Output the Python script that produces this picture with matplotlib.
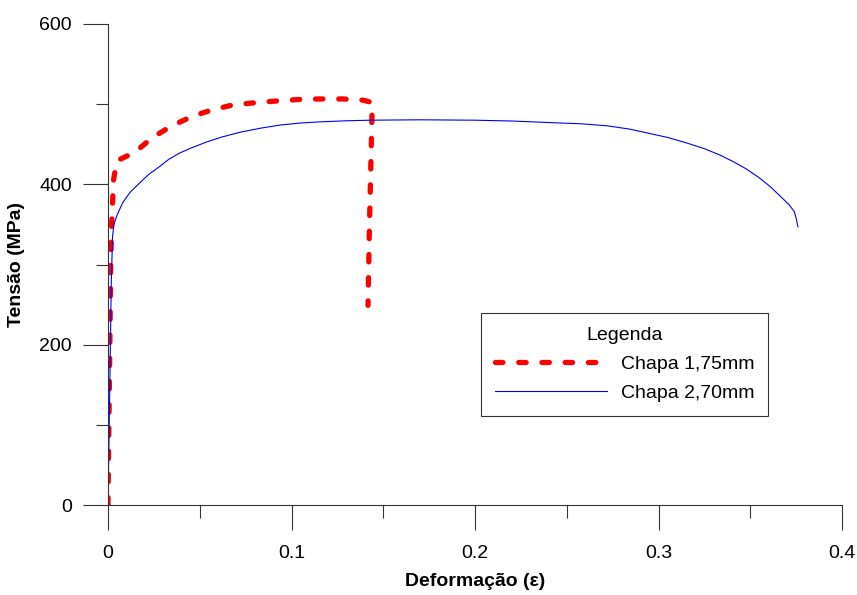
import numpy as np
import matplotlib
matplotlib.use("Agg")
import matplotlib.pyplot as plt
from matplotlib.ticker import MultipleLocator

plt.rcParams['font.family'] = ['Liberation Sans', 'DejaVu Sans']

# Chapa 1,75mm (red dashed)
strain_175 = [0.0, 0.0015, 0.002, 0.003, 0.0045, 0.0054, 0.0147, 0.024, 0.034,
              0.046, 0.057, 0.068, 0.081, 0.092, 0.105, 0.116, 0.128, 0.139,
              0.144, 0.1438, 0.1425, 0.1417]
stress_175 = [0, 300, 350, 405, 425, 430, 440, 458, 472,
              485, 493, 499, 502, 504, 506, 506.5, 506.5, 505,
              502, 480, 350, 249]

# Chapa 2,70mm (blue solid)
strain_270 = [0.0, 0.001, 0.0018, 0.0025, 0.0032, 0.005, 0.008, 0.012, 0.0174,
              0.022, 0.028, 0.033, 0.039, 0.046, 0.054, 0.062, 0.072, 0.083,
              0.094, 0.105, 0.116, 0.13, 0.143, 0.17, 0.2, 0.22, 0.241, 0.258,
              0.272, 0.284, 0.294, 0.305, 0.3155, 0.325, 0.3335, 0.341, 0.348,
              0.355, 0.361, 0.366, 0.371, 0.374, 0.375, 0.376]
stress_270 = [0, 150, 280, 335, 350, 362, 377, 390, 402,
              412, 422, 431, 439, 446, 453, 459, 465, 470,
              474, 476.5, 478, 479.3, 480, 480.5, 480, 479, 477, 475.5,
              473, 469, 464, 458.5, 451.5, 444.5, 436.5, 428, 419,
              408, 397, 386, 375, 366, 358, 347]

fig = plt.figure(figsize=(8.57, 5.95), dpi=100)
ax = fig.add_axes([108/857, 90/595, 734/857, 481/595])

ax.plot(strain_175, stress_175, color='red', linewidth=3.8,
        dashes=(1.4, 3.0), dash_capstyle='round', label='Chapa 1,75mm')
ax.plot(strain_270, stress_270, color='blue', linewidth=0.8,
        label='Chapa 2,70mm')

ax.set_xlim(0, 0.4)
ax.set_ylim(0, 600)
ax.xaxis.set_minor_locator(MultipleLocator(0.05))
ax.yaxis.set_major_locator(MultipleLocator(200))
ax.yaxis.set_minor_locator(MultipleLocator(100))
ax.set_xticks([0, 0.1, 0.2, 0.3, 0.4])
ax.set_xticklabels(['0', '0.1', '0.2', '0.3', '0.4'])

for s in ['top', 'right']:
    ax.spines[s].set_visible(False)
for s in ['left', 'bottom']:
    ax.spines[s].set_color('#333333')
    ax.spines[s].set_linewidth(0.8)

ax.tick_params(which='major', direction='out', length=18, width=0.8,
               labelsize=14, color='#333333')
ax.tick_params(which='minor', direction='out', length=9, width=0.8,
               color='#333333')
ax.tick_params(axis='x', which='major', pad=11)
ax.tick_params(axis='y', which='major', pad=8)

ax.set_xlabel('Deformação (ε)', fontsize=14, fontweight='bold', labelpad=8)
ax.set_ylabel('Tensão (MPa)', fontsize=14, fontweight='bold', labelpad=10)

leg = fig.legend(loc='upper left', bbox_to_anchor=(481/857, 1 - 313/595),
                 title='Legenda', fontsize=14, title_fontsize=14,
                 fancybox=False, edgecolor='#333333', framealpha=1,
                 handlelength=5.8, handletextpad=0.7, borderpad=0.7,
                 labelspacing=0.6, borderaxespad=0)
leg.get_frame().set_linewidth(0.8)

fig.savefig('out.png', dpi=100)
